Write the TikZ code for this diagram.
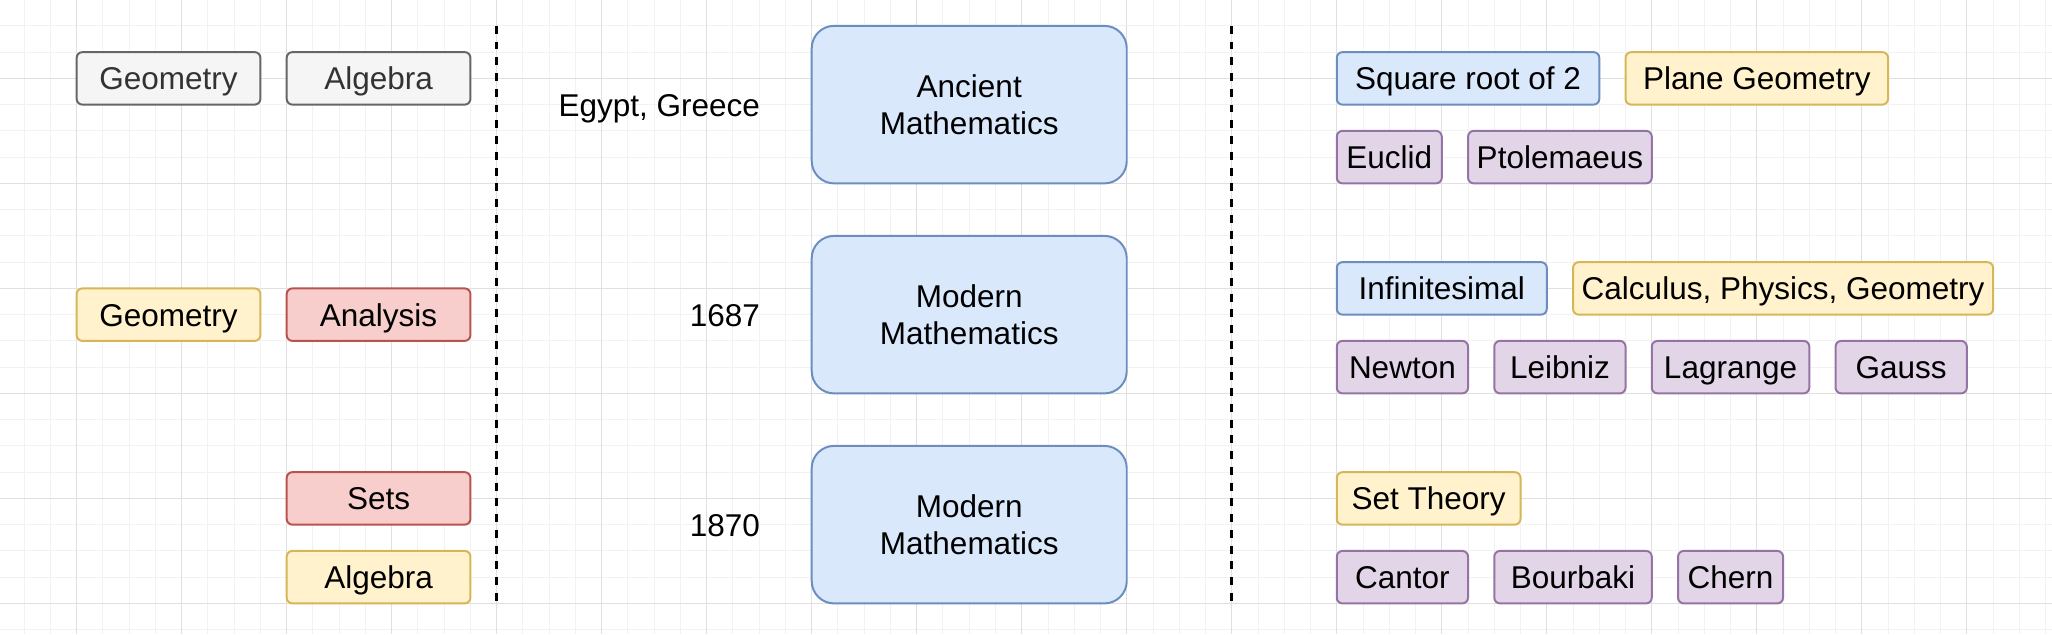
\documentclass[tikz,border=0pt]{standalone}
\usepackage{fontspec}
\setmainfont{Liberation Sans}
\definecolor{grayfill}{HTML}{F5F5F5}
\definecolor{graydraw}{HTML}{666666}
\definecolor{graytext}{HTML}{333333}
\definecolor{yelfill}{HTML}{FFF2CC}
\definecolor{yeldraw}{HTML}{D6B656}
\definecolor{redfill}{HTML}{F8CECC}
\definecolor{reddraw}{HTML}{B85450}
\definecolor{bluefill}{HTML}{DAE8FC}
\definecolor{bluedraw}{HTML}{6C8EBF}
\definecolor{purfill}{HTML}{E1D5E7}
\definecolor{purdraw}{HTML}{9673A6}
\definecolor{gridminor}{HTML}{F2F2F2}
\definecolor{gridmajor}{HTML}{E0E0E0}
\newcommand{\topline}{\rule{0pt}{10pt}}
\newcommand{\botline}{\rule[-1.35pt]{0pt}{1.35pt}}
\tikzset{
  txt/.style={inner sep=0pt, text height=9.5pt, text depth=0.8pt,
    font=\fontsize{12pt}{14.4pt}\selectfont},
  tag/.style={txt, rectangle, rounded corners=2.2pt, line width=0.75pt,
    minimum height=20pt, align=center},
  graytag/.style={tag, fill=grayfill, draw=graydraw, text=graytext},
  yeltag/.style={tag, fill=yelfill, draw=yeldraw},
  redtag/.style={tag, fill=redfill, draw=reddraw},
  bluetag/.style={tag, fill=bluefill, draw=bluedraw},
  purtag/.style={tag, fill=purfill, draw=purdraw},
  era/.style={inner sep=0pt, font=\fontsize{12pt}{14.4pt}\selectfont,
    rectangle, rounded corners=8.5pt, line width=0.75pt,
    fill=bluefill, draw=bluedraw, minimum width=120pt, minimum height=60pt,
    align=center},
  datelabel/.style={txt, anchor=east},
  divider/.style={line width=1pt, dash pattern=on 3pt off 3pt, black}
}
\begin{document}
\begin{tikzpicture}[x=0.5pt,y=-0.5pt]
\useasboundingbox (1.6,0.3) rectangle (1564.9,483.4);
% grid
\foreach \i in {0,20,...,1560} \draw[gridminor, line width=0.38pt] (\i,0.3) -- (\i,483.4);
\foreach \j in {0,20,...,480} \draw[gridminor, line width=0.38pt] (1.6,\j) -- (1564.9,\j);
\foreach \i in {60,140,...,1540} \draw[gridmajor, line width=0.38pt] (\i,0.3) -- (\i,483.4);
\foreach \j in {60,140,...,460} \draw[gridmajor, line width=0.38pt] (1.6,\j) -- (1564.9,\j);

% left column
\node[graytag, minimum width=70pt] (geo1) at (130,60) {Geometry};
\node[graytag, minimum width=70pt] (alg1) at (290,60) {Algebra};
\node[yeltag, minimum width=70pt] (geo2) at (130,240) {Geometry};
\node[redtag, minimum width=70pt] (ana) at (290,240) {Analysis};
\node[redtag, minimum width=70pt] (sets) at (290,380) {Sets};
\node[yeltag, minimum width=70pt] (alg2) at (290,440) {Algebra};

% dividers
\coordinate (d1t) at (380,20);
\coordinate (d1b) at (380,460);
\coordinate (d2t) at (940,20);
\coordinate (d2b) at (940,460);
\draw[divider] (d1t) -- (d1b);
\draw[divider] (d2t) -- (d2b);

% dates
\node[datelabel] (eg) at (581,80) {Egypt, Greece};
\node[datelabel] (y1687) at (581,240) {1687};
\node[datelabel] (y1870) at (581,400) {1870};

% eras
\node[era] (ancient) at (740,80) {\topline Ancient\\Mathematics\botline};
\node[era] (modern1) at (740,240) {\topline Modern\\Mathematics\botline};
\node[era] (modern2) at (740,400) {\topline Modern\\Mathematics\botline};

% right column
\node[bluetag, minimum width=100pt] (sqrt) at (1120,60) {Square root of 2};
\node[yeltag, minimum width=100pt] (plane) at (1340,60) {Plane Geometry};
\node[purtag, minimum width=40pt] (euclid) at (1060,120) {Euclid};
\node[purtag, minimum width=70pt] (ptol) at (1190,120) {Ptolemaeus};

\node[bluetag, minimum width=80pt] (inf) at (1100,220) {Infinitesimal};
\node[yeltag, minimum width=160pt] (calc) at (1360,220) {Calculus, Physics, Geometry};
\node[purtag, minimum width=50pt] (newton) at (1070,280) {Newton};
\node[purtag, minimum width=50pt] (leibniz) at (1190,280) {Leibniz};
\node[purtag, minimum width=60pt] (lagrange) at (1320,280) {Lagrange};
\node[purtag, minimum width=50pt] (gauss) at (1450,280) {Gauss};

\node[yeltag, minimum width=70pt] (settheory) at (1090,380) {Set Theory};
\node[purtag, minimum width=50pt] (cantor) at (1070,440) {Cantor};
\node[purtag, minimum width=60pt] (bourbaki) at (1200,440) {Bourbaki};
\node[purtag, minimum width=40pt] (chern) at (1320,440) {Chern};
\end{tikzpicture}
\end{document}
